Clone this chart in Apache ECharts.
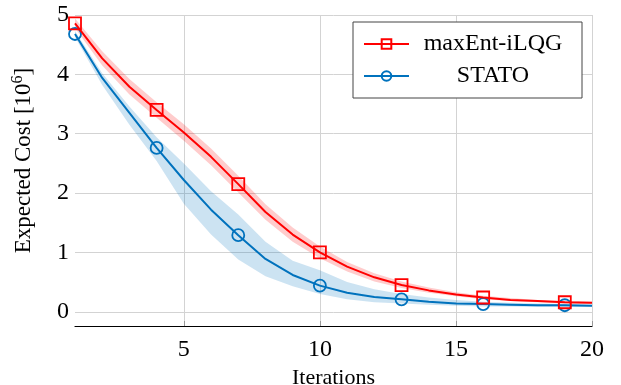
<!DOCTYPE html>
<html>
<head>
<meta charset="utf-8">
<script src="https://cdn.jsdelivr.net/npm/echarts@6/dist/echarts.min.js"></script>
<style>
    html, body { margin: 0; padding: 0; background: #fff; }
    #chart { width: 621px; height: 385px; }
</style>
</head>
<body>
<div id="chart"></div>
<script>
    // iterations 1..20
    var iters = ['1', '2', '3', '4', '5', '6', '7', '8', '9', '10', '11', '12', '13', '14', '15', '16', '17', '18', '19', '20'];

    // maxEnt-iLQG mean and band
    var ilqgMean = [4.86, 4.27, 3.79, 3.40, 3.02, 2.61, 2.15, 1.68, 1.30, 1.00, 0.76, 0.58, 0.45, 0.36, 0.29, 0.24, 0.20, 0.18, 0.16, 0.15];
    var ilqgLow  = [4.78, 4.15, 3.66, 3.27, 2.88, 2.47, 2.01, 1.55, 1.18, 0.90, 0.68, 0.51, 0.40, 0.32, 0.26, 0.21, 0.18, 0.16, 0.14, 0.13];
    var ilqgHigh = [4.94, 4.39, 3.92, 3.53, 3.16, 2.75, 2.29, 1.81, 1.42, 1.10, 0.84, 0.65, 0.51, 0.41, 0.33, 0.27, 0.23, 0.20, 0.18, 0.17];

    // STATO mean and band
    var statoMean = [4.68, 3.94, 3.35, 2.76, 2.22, 1.72, 1.29, 0.89, 0.62, 0.44, 0.32, 0.25, 0.21, 0.17, 0.14, 0.13, 0.12, 0.11, 0.11, 0.10];
    var statoLow  = [4.63, 3.82, 3.15, 2.54, 1.82, 1.30, 0.88, 0.60, 0.43, 0.30, 0.21, 0.16, 0.14, 0.12, 0.10, 0.09, 0.09, 0.08, 0.08, 0.08];
    var statoHigh = [4.73, 4.02, 3.46, 2.94, 2.50, 2.03, 1.64, 1.18, 0.86, 0.70, 0.50, 0.38, 0.30, 0.24, 0.20, 0.17, 0.15, 0.14, 0.13, 0.12];

    var xTicks = ['5', '10', '15', '20'];
    var yTicks = [0, 1, 2, 3, 4, 5];

    var RED = '#ff0000';
    var BLUE = '#0072bd';
    var FONT = 'Liberation Serif';

    function diff(hi, lo) {
        var out = [];
        for (var i = 0; i < hi.length; i++) out.push(+(hi[i] - lo[i]).toFixed(3));
        return out;
    }
    function markSize(size) {
        return function (v, p) { return p.dataIndex % 3 === 0 ? size : 0; };
    }
    function onTick(idx, val) { return xTicks.indexOf(val) >= 0; }
    function band(name, stack, lo, hi, color) {
        return [
            {
                name: name + '_lo', type: 'line', stack: stack, data: lo,
                symbol: 'none', lineStyle: { width: 0, opacity: 0 }, silent: true, z: 1
            },
            {
                name: name + '_band', type: 'line', stack: stack, data: diff(hi, lo),
                symbol: 'none', lineStyle: { width: 0, opacity: 0 },
                areaStyle: { color: color, opacity: 1 }, silent: true, z: 1
            }
        ];
    }

    var chart = echarts.init(document.getElementById('chart'));
    var series = []
        .concat(band('stato', 'sb', statoLow, statoHigh, 'rgba(0,114,189,0.2)'))
        .concat(band('ilqg', 'rb', ilqgLow, ilqgHigh, 'rgba(255,0,0,0.2)'))
        .concat([
            {
                name: 'STATO', type: 'line', data: statoMean,
                symbol: 'circle', symbolSize: markSize(12), showAllSymbol: true,
                lineStyle: { color: BLUE, width: 2 },
                itemStyle: { color: 'rgba(0,0,0,0)', borderColor: BLUE, borderWidth: 1.8 },
                z: 3
            },
            {
                name: 'maxEnt-iLQG', type: 'line', data: ilqgMean,
                symbol: 'rect', symbolSize: markSize(12), showAllSymbol: true,
                lineStyle: { color: RED, width: 2 },
                itemStyle: { color: 'rgba(0,0,0,0)', borderColor: RED, borderWidth: 1.8 },
                z: 4
            }
        ]);

    chart.setOption({
        animation: false,
        textStyle: { fontFamily: FONT },
        grid: { left: 75, right: 29, top: 15, bottom: 59, outerBoundsMode: 'none', containLabel: false },
        legend: {
            data: ['maxEnt-iLQG', 'STATO'],
            orient: 'vertical',
            left: 353, top: 22,
            padding: [10, 10, 10, 10],
            itemGap: 8,
            itemWidth: 45, itemHeight: 12,
            backgroundColor: '#fff',
            borderColor: '#444', borderWidth: 1, borderRadius: 0,
            formatter: function (n) { return '{t|' + n + '}'; },
            textStyle: {
                rich: { t: { width: 158, align: 'center', fontSize: 24, fontFamily: FONT, color: '#000', lineHeight: 27 } }
            }
        },
        xAxis: {
            type: 'category', data: iters, boundaryGap: false,
            name: 'Iterations', nameLocation: 'middle', nameGap: 32,
            nameTextStyle: { fontSize: 22, color: '#000', fontFamily: FONT },
            axisLine: { onZero: false, lineStyle: { color: '#000', width: 1.2 } },
            axisTick: { inside: true, length: 5, interval: onTick, lineStyle: { color: '#999' } },
            axisLabel: { interval: onTick, margin: 12, fontSize: 24, color: '#000', fontFamily: FONT },
            splitLine: { show: true, interval: onTick, lineStyle: { color: '#d3d3d3', width: 1 } }
        },
        yAxis: {
            type: 'value', min: -0.24, max: 5,
            name: 'Expected Cost [10{s|6}]', nameLocation: 'middle', nameGap: 37, nameRotate: 90,
            nameTextStyle: {
                fontSize: 23, color: '#000', fontFamily: FONT, padding: [0, 0, 0, 20],
                rich: { s: { fontSize: 16, verticalAlign: 'top', padding: [0, 0, 12, 0], fontFamily: FONT } }
            },
            axisLine: { onZero: false, lineStyle: { color: '#000', width: 1.2 } },
            axisTick: { inside: true, length: 5, customValues: yTicks, lineStyle: { color: '#999' } },
            axisLabel: { customValues: yTicks, margin: 6, fontSize: 24, color: '#000', fontFamily: FONT },
            splitLine: { show: true, lineStyle: { color: '#d3d3d3', width: 1 } }
        },
        series: series
    });
</script>
</body>
</html>
